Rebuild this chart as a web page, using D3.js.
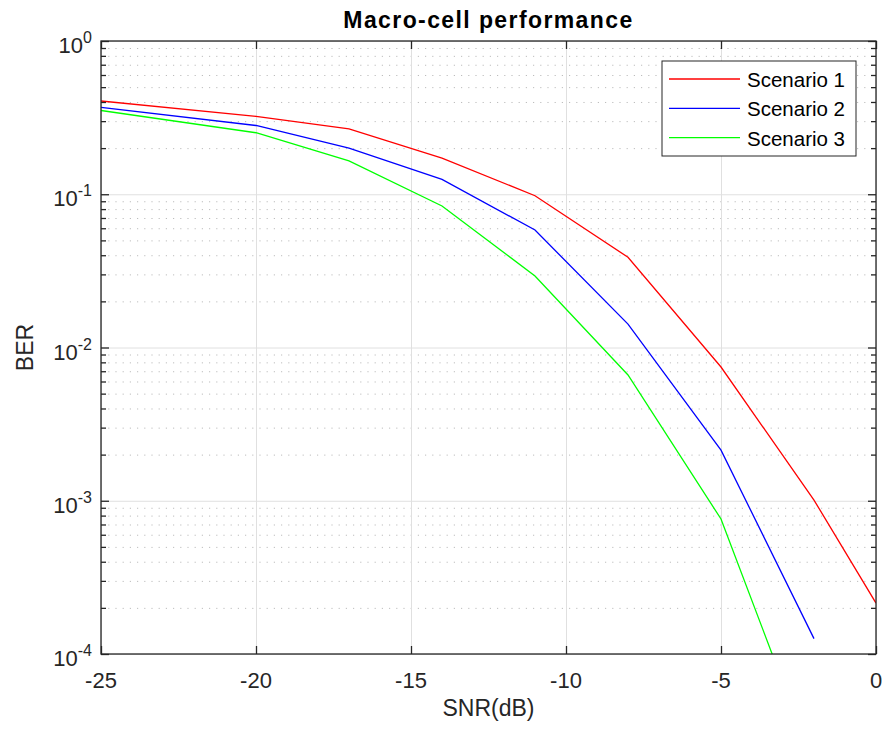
<!doctype html>
<html lang="en">
<head>
    <meta charset="utf-8"/>
    <title>Macro-cell performance</title>
    <script src="https://d3js.org/d3.v7.min.js"></script>
    <style>
        body {
            margin: 0;
            padding: 0;
            background: #ffffff;
        }

        svg text {
            font-family: "Liberation Sans", Arial, Helvetica, sans-serif;
            fill: #262626;
        }

        .grid-major line {
            stroke: #e0e0e0;
            stroke-width: 1;
        }

        .grid-minor line {
            stroke: #bdbdbd;
            stroke-width: 1;
            stroke-dasharray: 1.2, 6;
        }

        .grid-major path, .grid-minor path {
            display: none;
        }
    </style>
</head>
<body>

<script>

    // SNR values (dB) on the x axis
    const snr = [-25, -20, -17, -14, -11, -8, -5, -2, 0]

    // BER, one array per scenario
    const scenario1 = [0.406, 0.322, 0.267, 0.172, 0.0978, 0.0388, 0.00746, 0.00101, 0.000215]
    const scenario2 = [0.369, 0.281, 0.200, 0.125, 0.0584, 0.0142, 0.00214, 0.000126]
    const scenario3 = [0.352, 0.252, 0.165, 0.0838, 0.0293, 0.00662, 0.00076, 0.000019]

    const seriesNames = ['Scenario 1', 'Scenario 2', 'Scenario 3']
    const seriesColors = ['#ff0000', '#0000ff', '#00ff00']

    // ticks
    const xTicks = [-25, -20, -15, -10, -5, 0]
    const yDecades = [1e-4, 1e-3, 1e-2, 1e-1, 1]
    const yExponents = ['-4', '-3', '-2', '-1', '0']

    const width = 884, height = 729
    const margin = {top: 41, right: 8, bottom: 75, left: 101}
    const w = width - margin.left - margin.right
    const h = height - margin.top - margin.bottom

    const svg = d3.select('body')
        .append('svg')
        .attr('width', width)
        .attr('height', height)

    const x = d3.scaleLinear().domain([-25, 0]).range([0, w])
    const y = d3.scaleLog().domain([1e-4, 1]).range([h, 0])

    // minor ticks: 2..9 of every decade
    const yMinor = y.ticks().filter(function (v) {
        return yDecades.indexOf(v) < 0
    })

    const g = svg.append('g')
        .attr('transform', 'translate(' + margin.left + ',' + margin.top + ')')

    // grid lines
    g.append('g')
        .attr('class', 'grid-minor')
        .call(d3.axisLeft(y).tickValues(yMinor).tickSize(-w).tickFormat(''))
    g.append('g')
        .attr('class', 'grid-major')
        .call(d3.axisLeft(y).tickValues(yDecades).tickSize(-w).tickFormat(''))
    g.append('g')
        .attr('class', 'grid-major')
        .attr('transform', 'translate(0,' + h + ')')
        .call(d3.axisBottom(x).tickValues(xTicks).tickSize(-h).tickFormat(''))

    // data lines, clipped to the axes box
    svg.append('defs').append('clipPath')
        .attr('id', 'clip')
        .append('rect')
        .attr('width', w)
        .attr('height', h)

    const line = d3.line()
        .x(function (d) { return x(d[0]) })
        .y(function (d) { return y(d[1]) })

    const allSeries = [scenario1, scenario2, scenario3]
    allSeries.forEach(function (vals, i) {
        const pts = vals.map(function (v, j) { return [snr[j], v] })
        g.append('path')
            .attr('clip-path', 'url(#clip)')
            .attr('d', line(pts))
            .attr('fill', 'none')
            .attr('stroke', seriesColors[i])
            .attr('stroke-width', 1.3)
    })

    // axes with inward ticks on all four sides
    function styleAxis(sel) {
        sel.select('.domain').remove()
        sel.selectAll('line').attr('stroke', '#262626').attr('stroke-width', 1.3)
    }

    g.append('g').call(d3.axisLeft(y).tickValues(yDecades).tickSize(-8).tickFormat('')).call(styleAxis)
    g.append('g').call(d3.axisLeft(y).tickValues(yMinor).tickSize(-5).tickFormat('')).call(styleAxis)
    g.append('g').attr('transform', 'translate(' + w + ',0)')
        .call(d3.axisRight(y).tickValues(yDecades).tickSize(-8).tickFormat('')).call(styleAxis)
    g.append('g').attr('transform', 'translate(' + w + ',0)')
        .call(d3.axisRight(y).tickValues(yMinor).tickSize(-5).tickFormat('')).call(styleAxis)
    g.append('g').call(d3.axisTop(x).tickValues(xTicks).tickSize(-8).tickFormat('')).call(styleAxis)
    g.append('g').attr('transform', 'translate(0,' + h + ')')
        .call(d3.axisBottom(x).tickValues(xTicks).tickSize(-8).tickFormat('')).call(styleAxis)

    // box
    g.append('rect')
        .attr('width', w)
        .attr('height', h)
        .attr('fill', 'none')
        .attr('stroke', '#262626')
        .attr('stroke-width', 1.3)

    // x tick labels
    g.selectAll('.xlabel')
        .data(xTicks)
        .enter()
        .append('text')
        .attr('x', function (d) { return x(d) })
        .attr('y', h + 34)
        .attr('text-anchor', 'middle')
        .style('font-size', '22px')
        .text(function (d) { return d })

    // y tick labels 10^n
    const ylab = g.selectAll('.ylabel')
        .data(yDecades)
        .enter()
        .append('text')
        .attr('x', -9)
        .attr('y', function (d) { return y(d) + 12 })
        .attr('text-anchor', 'end')
        .style('font-size', '22px')
    ylab.append('tspan').text('10')
    ylab.append('tspan')
        .attr('dy', -10)
        .style('font-size', '16px')
        .text(function (d, i) { return yExponents[i] })

    // title and axis labels
    svg.append('text')
        .attr('x', margin.left + w / 2)
        .attr('y', 28)
        .attr('text-anchor', 'middle')
        .style('font-size', '23px')
        .style('font-weight', 'bold')
        .style('letter-spacing', '1.4px')
        .style('fill', '#000')
        .text('Macro-cell performance')

    svg.append('text')
        .attr('x', margin.left + w / 2)
        .attr('y', 716)
        .attr('text-anchor', 'middle')
        .style('font-size', '23px')
        .text('SNR(dB)')

    svg.append('text')
        .attr('transform', 'translate(33,' + (margin.top + h / 2) + ') rotate(-90)')
        .attr('text-anchor', 'middle')
        .style('font-size', '23px')
        .text('BER')

    // legend
    const legend = svg.append('g').attr('transform', 'translate(662,61)')
    legend.append('rect')
        .attr('width', 194)
        .attr('height', 95)
        .attr('fill', '#fff')
        .attr('stroke', '#262626')
        .attr('stroke-width', 1)
    seriesNames.forEach(function (name, i) {
        const ly = 18 + i * 29.3
        legend.append('line')
            .attr('x1', 7).attr('x2', 78)
            .attr('y1', ly).attr('y2', ly)
            .attr('stroke', seriesColors[i])
            .attr('stroke-width', 1.3)
        legend.append('text')
            .attr('x', 85)
            .attr('y', ly + 8)
            .style('font-size', '20.5px')
            .style('fill', '#000')
            .text(name)
    })

</script>
</body>
</html>
